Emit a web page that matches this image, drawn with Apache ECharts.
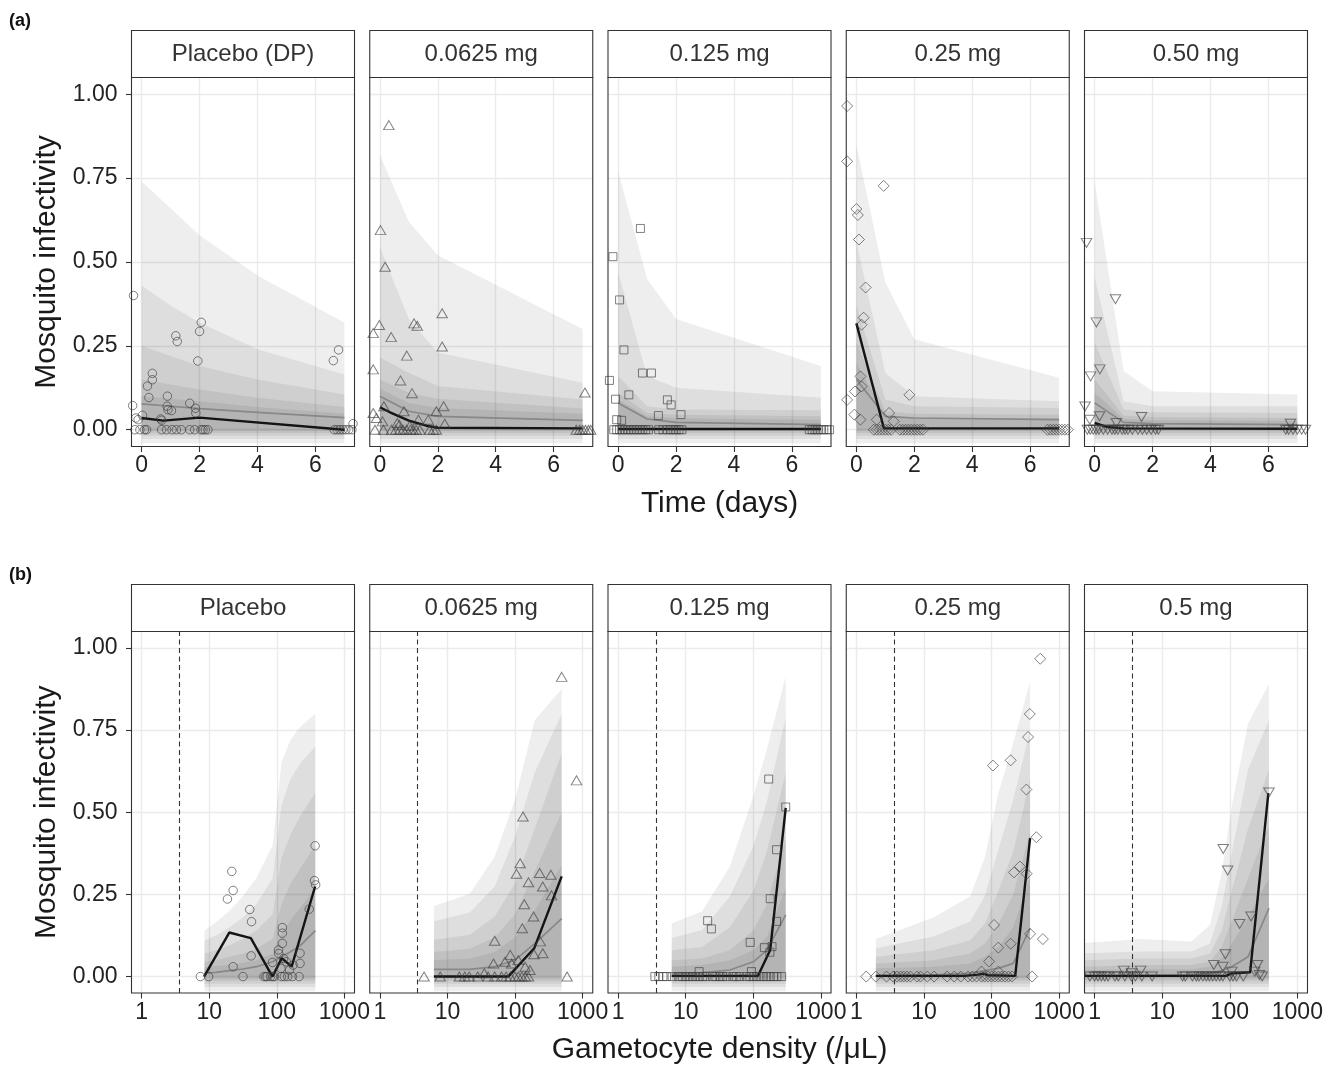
<!DOCTYPE html>
<html><head><meta charset="utf-8">
<script src="https://cdn.jsdelivr.net/npm/echarts@6.0.0/dist/echarts.min.js"></script>
<style>html,body{margin:0;padding:0;background:#fff}#c{width:1337px;height:1067px}</style>
</head><body><div id="c"></div><script>
// ---------- tick labels / categories ----------
const stripA = ['Placebo (DP)', '0.0625 mg', '0.125 mg', '0.25 mg', '0.50 mg'];
const stripB = ['Placebo', '0.0625 mg', '0.125 mg', '0.25 mg', '0.5 mg'];
const timeTicks = [0, 2, 4, 6];
const infTicks = [0, 0.25, 0.5, 0.75, 1];
const densityTicks = [1, 10, 100, 1000];
const detectionLimit = [3.6];
// lower edges of the five prediction bands (outer -> inner)
const bandBottomA = [-0.04, -0.028, -0.018, -0.01, -0.004];
const bandBottomB = [-0.045, -0.032, -0.022, -0.013, -0.006];

// ---------- (a) Placebo (DP) ----------
const a1Time = [0, 1, 2, 4, 7];
const a1BandTop = [
  [0.74, 0.66, 0.58, 0.46, 0.32],
  [0.43, 0.37, 0.32, 0.24, 0.165],
  [0.25, 0.22, 0.19, 0.15, 0.105],
  [0.15, 0.135, 0.12, 0.095, 0.068],
  [0.10, 0.092, 0.085, 0.068, 0.048]];
const a1Median = [0.077, 0.07, 0.063, 0.052, 0.036];
const a1ObsTime = [0, 0.75, 2, 7];
const a1ObsInf = [0.035, 0.027, 0.036, 0.0];
const a1Points = [[-0.28,0.40],[-0.31,0.072],[-0.2,0.035],[-0.12,0.03],[0.03,0.043],[0.2,0.13],[0.25,0.096],[0.37,0.168],[0.37,0.149],[0.66,0.032],[0.69,0.028],[0.89,0.10],[0.88,0.07],[0.91,0.06],[1.03,0.057],[1.18,0.28],[1.23,0.263],[1.66,0.079],[1.86,0.064],[1.87,0.05],[1.94,0.205],[2.0,0.293],[2.06,0.32],[6.62,0.206],[6.8,0.238],[7.3,0.018],
  [-0.23,0],[-0.06,0],[0.1,0],[0.17,0],[0.69,0],[0.86,0],[1.05,0],[1.2,0],[1.37,0],[1.66,0],[1.83,0],[2.05,0],[2.12,0],[2.2,0],[2.29,0],[6.65,0],[6.75,0],[6.85,0],[6.95,0],[7.05,0],[7.15,0],[7.26,0]];

// ---------- (a) 0.0625 mg ----------
const a2Time = [0, 1, 2, 7];
const a2BandTop = [
  [0.82, 0.62, 0.52, 0.30],
  [0.545, 0.33, 0.23, 0.14],
  [0.215, 0.17, 0.13, 0.09],
  [0.15, 0.11, 0.092, 0.063],
  [0.122, 0.08, 0.065, 0.048]];
const a2Median = [0.10, 0.055, 0.04, 0.028];
const a2ObsTime = [0, 0.35, 1, 1.6, 2, 7];
const a2ObsInf = [0.067, 0.052, 0.027, 0.012, 0.006, 0.004];
const a2Points = [[0.31,0.908],[0.02,0.595],[0.18,0.486],[-0.02,0.312],[-0.23,0.288],[1.18,0.317],[1.29,0.31],[0.39,0.276],[2.15,0.347],[2.15,0.248],[0.93,0.221],[-0.23,0.18],[0.71,0.147],[1.11,0.109],[0.14,0.07],[2.2,0.07],[0.83,0.055],[1.95,0.055],[-0.23,0.05],[7.08,0.111],[-0.12,0.035],[0.09,0.025],[0.6,0.02],[0.67,0.015],[1.03,0.012],[1.33,0.03],[1.67,0.03],[2.24,0.018],
  [-0.17,0],[0.12,0],[0.4,0],[0.55,0],[0.69,0],[0.8,0],[0.92,0],[1.05,0],[1.15,0],[1.25,0],[1.38,0],[1.72,0],[1.85,0],[1.95,0],[6.78,0],[6.9,0],[7.0,0],[7.1,0],[7.2,0],[7.28,0]];

// ---------- (a) 0.125 mg ----------
const a3Time = [0, 1, 2, 7];
const a3BandTop = [
  [0.77, 0.45, 0.33, 0.19],
  [0.47, 0.16, 0.125, 0.095],
  [0.16, 0.07, 0.06, 0.058],
  [0.11, 0.05, 0.045, 0.04],
  [0.09, 0.04, 0.034, 0.03]];
const a3Median = [0.08, 0.032, 0.022, 0.015];
const a3ObsTime = [0, 7];
const a3ObsInf = [0.002, 0.002];
const a3Points = [[0.77,0.6],[-0.18,0.516],[0.05,0.387],[0.2,0.238],[0.84,0.169],[1.15,0.169],[-0.3,0.147],[-0.09,0.091],[0.37,0.104],[1.7,0.089],[1.83,0.074],[1.39,0.042],[2.17,0.045],[-0.05,0.03],[0.12,0.028],
  [-0.15,0],[-0.05,0],[0.05,0],[0.15,0],[0.25,0],[0.35,0],[0.45,0],[0.55,0],[0.65,0],[0.75,0],[0.85,0],[0.95,0],[1.05,0],[1.4,0],[1.55,0],[1.7,0],[1.8,0],[1.9,0],[2.0,0],[2.1,0],[2.2,0],[6.6,0],[6.7,0],[6.8,0],[6.9,0],[7.0,0],[7.1,0],[7.2,0],[7.3,0]];

// ---------- (a) 0.25 mg ----------
const a4Time = [0, 1, 2, 7];
const a4BandTop = [
  [0.85, 0.44, 0.27, 0.155],
  [0.56, 0.17, 0.10, 0.085],
  [0.37, 0.09, 0.07, 0.065],
  [0.26, 0.055, 0.048, 0.045],
  [0.20, 0.042, 0.036, 0.034]];
const a4Median = [0.15, 0.04, 0.035, 0.03];
const a4ObsTime = [0, 0.95, 7];
const a4ObsInf = [0.317, 0.004, 0.004];
const a4Points = [[-0.32,0.965],[-0.32,0.8],[0.94,0.727],[0.0,0.658],[0.05,0.64],[0.09,0.567],[0.32,0.424],[0.25,0.334],[0.18,0.313],[0.14,0.159],[0.18,0.129],[-0.05,0.114],[-0.32,0.089],[1.83,0.104],[1.13,0.05],[-0.07,0.045],[0.14,0.03],[1.29,0.025],[0.7,0.03],
  [0.6,0],[0.7,0],[0.8,0],[0.9,0],[1.0,0],[1.1,0],[1.2,0],[1.5,0],[1.6,0],[1.7,0],[1.8,0],[1.9,0],[2.0,0],[2.1,0],[2.2,0],[2.3,0],[6.6,0],[6.7,0],[6.8,0],[6.9,0],[7.0,0],[7.1,0],[7.2,0],[7.3,0]];

// ---------- (a) 0.50 mg ----------
const a5Time = [0, 1, 2, 7];
const a5BandTop = [
  [0.74, 0.175, 0.115, 0.105],
  [0.455, 0.085, 0.07, 0.07],
  [0.26, 0.06, 0.052, 0.05],
  [0.15, 0.042, 0.038, 0.035],
  [0.11, 0.032, 0.028, 0.026]];
const a5Median = [0.08, 0.022, 0.018, 0.015];
const a5ObsTime = [0, 0.45, 1, 7];
const a5ObsInf = [0.02, 0.008, 0.004, 0.003];
const a5Points = [[-0.28,0.557],[0.72,0.389],[0.06,0.32],[0.18,0.18],[-0.14,0.159],[-0.33,0.069],[1.62,0.038],[0.17,0.04],[-0.17,0.03],[0.75,0.02],[6.76,0.018],
  [-0.25,0],[-0.15,0],[-0.05,0],[0.05,0],[0.15,0],[0.3,0],[0.45,0],[0.6,0],[0.7,0],[0.8,0],[0.95,0],[1.05,0],[1.15,0],[1.3,0],[1.5,0],[1.65,0],[1.8,0],[1.95,0],[2.1,0],[2.2,0],[6.6,0],[6.7,0],[6.85,0],[7.0,0],[7.15,0],[7.28,0]];

// ---------- (b) Placebo ----------
const b1Density = [8.5, 12.6, 20, 31.6, 50, 87, 117, 158, 224, 372];
const b1BandTop = [
  [0.14, 0.165, 0.2, 0.245, 0.30, 0.40, 0.65, 0.72, 0.76, 0.80],
  [0.11, 0.125, 0.15, 0.18, 0.22, 0.30, 0.52, 0.60, 0.65, 0.70],
  [0.07, 0.08, 0.095, 0.115, 0.14, 0.19, 0.36, 0.43, 0.49, 0.56],
  [0.045, 0.05, 0.06, 0.07, 0.085, 0.115, 0.22, 0.28, 0.33, 0.40],
  [0.028, 0.032, 0.036, 0.042, 0.05, 0.07, 0.13, 0.17, 0.21, 0.27]];
const b1Median = [0.01, 0.013, 0.018, 0.023, 0.03, 0.045, 0.06, 0.075, 0.095, 0.14];
const b1ObsDensity = [8.4, 19.8, 41.3, 86.3, 118.6, 166, 369];
const b1ObsInf = [0, 0.134, 0.117, 0.0, 0.056, 0.03, 0.274];
const b1Points = [[7.4,0],[9.8,0],[31.6,0],[64.6,0],[69,0],[72,0],[81,0],[87,0],[92,0],[117,0],[129,0],[145,0],[170,0],[214,0],
  [21.6,0.32],[22.6,0.262],[18.6,0.236],[22.6,0.03],[39.8,0.204],[42.3,0.167],[41.7,0.063],[86.3,0.043],[106,0.081],[107,0.07],[121,0.149],[121,0.132],[121,0.101],[115,0.025],[138,0.045],[155,0.02],[174,0.035],[126,0.055],[221,0.071],[221,0.04],[302,0.205],[369,0.398],[361,0.292],[376,0.279]];

// ---------- (b) 0.0625 mg ----------
const b2Density = [6.3, 21.4, 50, 100, 195, 490];
const b2BandTop = [
  [0.215, 0.252, 0.365, 0.538, 0.78, 0.875],
  [0.168, 0.195, 0.274, 0.426, 0.62, 0.80],
  [0.112, 0.127, 0.183, 0.284, 0.45, 0.68],
  [0.075, 0.085, 0.12, 0.19, 0.32, 0.50],
  [0.05, 0.055, 0.075, 0.12, 0.2, 0.34]];
const b2Median = [0.022, 0.022, 0.03, 0.05, 0.1, 0.176];
const b2ObsDensity = [6.3, 79.4, 192, 490];
const b2ObsInf = [0, 0, 0.086, 0.305];
const b2Points = [[4.5,0],[7.8,0],[15,0],[18,0],[21,0],[28,0],[40,0],[50,0],[63,0],[74,0],[85,0],[100,0],[112,0],[126,0],[141,0],[158,0],[589,0],
  [490,0.912],[813,0.597],[131,0.487],[119,0.345],[105,0.313],[231,0.315],[339,0.31],[158,0.287],[257,0.274],[347,0.247],[137,0.22],[188,0.183],[128,0.147],[50,0.109],[236,0.107],[257,0.071],[191,0.068],[85,0.066],[48,0.04],[71,0.045],[89,0.04],[112,0.05],[141,0.03],[166,0.02],[35,0.01]];

// ---------- (b) 0.125 mg ----------
const b3Density = [6.2, 17.4, 45, 100, 158, 302];
const b3BandTop = [
  [0.162, 0.198, 0.335, 0.548, 0.69, 0.914],
  [0.117, 0.142, 0.244, 0.396, 0.53, 0.79],
  [0.08, 0.09, 0.15, 0.26, 0.38, 0.62],
  [0.05, 0.055, 0.08, 0.14, 0.22, 0.42],
  [0.03, 0.035, 0.05, 0.08, 0.12, 0.27]];
const b3Median = [0.01, 0.012, 0.02, 0.045, 0.08, 0.188];
const b3ObsDensity = [6.2, 117, 178, 302];
const b3ObsInf = [0.002, 0.002, 0.081, 0.513];
const b3Points = [[3.5,0],[4,0],[4.6,0],[5.2,0],[6.3,0],[7.9,0],[8.9,0],[10,0],[11.2,0],[12.6,0],[14.1,0],[15.8,0],[17.8,0],[20,0],[25,0],[28,0],[32,0],[35,0],[40,0],[50,0],[56,0],[63,0],[79,0],[89,0],[100,0],[112,0],[126,0],[141,0],[158,0],[178,0],[200,0],[224,0],[263,0],
  [169,0.601],[302,0.516],[221,0.386],[178,0.237],[221,0.168],[21.1,0.17],[24,0.145],[90,0.104],[146,0.088],[189,0.091],[176,0.074],[15.8,0.015],[94,0.015]];

// ---------- (b) 0.25 mg ----------
const b4Density = [1.94, 13.7, 48, 79, 126, 209, 372];
const b4BandTop = [
  [0.114, 0.18, 0.244, 0.36, 0.558, 0.71, 0.898],
  [0.086, 0.122, 0.167, 0.244, 0.386, 0.538, 0.75],
  [0.06, 0.08, 0.11, 0.16, 0.26, 0.38, 0.6],
  [0.04, 0.05, 0.07, 0.1, 0.16, 0.25, 0.44],
  [0.025, 0.03, 0.04, 0.06, 0.09, 0.15, 0.3]];
const b4Median = [0.002, 0.005, 0.01, 0.018, 0.025, 0.04, 0.147];
const b4ObsDensity = [1.94, 40, 63, 76, 89, 224, 372];
const b4ObsInf = [0.002, 0.002, 0.006, 0.009, 0.004, 0.002, 0.421];
const b4Points = [[1.4,0],[1.94,0],[2.8,0],[3.5,0],[4,0],[4.5,0],[5,0],[5.6,0],[6.3,0],[7.9,0],[8.9,0],[11.2,0],[14.1,0],[22,0],[28,0],[35,0],[45,0],[52,0],[60,0],[71,0],[79,0],[89,0],[100,0],[112,0],[126,0],[141,0],[158,0],[178,0],[200,0],[398,0],
  [525,0.967],[368,0.799],[347,0.729],[192,0.658],[105,0.642],[328,0.569],[461,0.424],[263,0.335],[215,0.317],[331,0.313],[109,0.157],[372,0.13],[575,0.114],[126,0.088],[192,0.1],[92,0.046],[71,0.015],[126,0.015]];

// ---------- (b) 0.5 mg ----------
const b5Density = [0.708, 4.9, 26.9, 50.7, 75.9, 107, 186, 380];
const b5BandTop = [
  [0.102, 0.114, 0.107, 0.157, 0.315, 0.518, 0.77, 0.89],
  [0.071, 0.076, 0.076, 0.10, 0.213, 0.376, 0.63, 0.78],
  [0.05, 0.055, 0.055, 0.07, 0.14, 0.26, 0.45, 0.63],
  [0.03, 0.035, 0.035, 0.045, 0.09, 0.17, 0.3, 0.46],
  [0.02, 0.022, 0.022, 0.03, 0.055, 0.1, 0.18, 0.3]];
const b5Median = [0.002, 0.003, 0.005, 0.01, 0.018, 0.03, 0.06, 0.208];
const b5ObsDensity = [0.708, 89, 107, 200, 372];
const b5ObsInf = [0.002, 0.002, 0.01, 0.013, 0.558];
const b5Points = [[0.85,0],[1,0],[1.12,0],[1.26,0],[1.41,0],[1.58,0],[2,0],[2.24,0],[2.8,0],[3.5,0],[4,0],[5,0],[7.1,0],[20,0],[22,0],[28,0],[32,0],[35,0],[40,0],[45,0],[50,0],[56,0],[63,0],[71,0],[79,0],[100,0],[112,0],[126,0],[158,0],[302,0],
  [2.7,0.018],[4.8,0.018],[3.5,0.01],[80,0.388],[93,0.323],[380,0.56],[206,0.183],[140,0.16],[86,0.068],[58,0.035],[79,0.03],[257,0.035],[234,0.015],[107,0.015],[275,0.005]];

// ---------- layout / styles ----------
const FONT = 'Liberation Sans, Arial, Helvetica, sans-serif';
const L0 = 131.5, STEP = 238.25, W = 223;
const ROWS = [{top: 77.5, h: 369, stripTop: 30.5, tag: '(a)', tagY: 21.5},
              {top: 631.5, h: 361.5, stripTop: 584.5, tag: '(b)', tagY: 575}];
const BAND_FILL = 'rgba(0,0,0,0.068)';
const SYMBOLS = [
  {symbol: 'circle', size: 8.5, rot: 0},
  {symbol: 'triangle', size: [10.5, 9], rot: 0},
  {symbol: 'rect', size: 8, rot: 0},
  {symbol: 'diamond', size: [11, 11], rot: 0},
  {symbol: 'triangle', size: [10.5, 9], rot: 180}];

const facets = [
  {row:0, col:0, strip:stripA[0], xs:a1Time, tops:a1BandTop, med:a1Median, ox:a1ObsTime, oy:a1ObsInf, pts:a1Points},
  {row:0, col:1, strip:stripA[1], xs:a2Time, tops:a2BandTop, med:a2Median, ox:a2ObsTime, oy:a2ObsInf, pts:a2Points},
  {row:0, col:2, strip:stripA[2], xs:a3Time, tops:a3BandTop, med:a3Median, ox:a3ObsTime, oy:a3ObsInf, pts:a3Points},
  {row:0, col:3, strip:stripA[3], xs:a4Time, tops:a4BandTop, med:a4Median, ox:a4ObsTime, oy:a4ObsInf, pts:a4Points},
  {row:0, col:4, strip:stripA[4], xs:a5Time, tops:a5BandTop, med:a5Median, ox:a5ObsTime, oy:a5ObsInf, pts:a5Points},
  {row:1, col:0, strip:stripB[0], xs:b1Density, tops:b1BandTop, med:b1Median, ox:b1ObsDensity, oy:b1ObsInf, pts:b1Points, log:true},
  {row:1, col:1, strip:stripB[1], xs:b2Density, tops:b2BandTop, med:b2Median, ox:b2ObsDensity, oy:b2ObsInf, pts:b2Points, log:true},
  {row:1, col:2, strip:stripB[2], xs:b3Density, tops:b3BandTop, med:b3Median, ox:b3ObsDensity, oy:b3ObsInf, pts:b3Points, log:true},
  {row:1, col:3, strip:stripB[3], xs:b4Density, tops:b4BandTop, med:b4Median, ox:b4ObsDensity, oy:b4ObsInf, pts:b4Points, log:true},
  {row:1, col:4, strip:stripB[4], xs:b5Density, tops:b5BandTop, med:b5Median, ox:b5ObsDensity, oy:b5ObsInf, pts:b5Points, log:true}];

const grid = [], xAxis = [], yAxis = [], series = [], graphic = [];
const gridLine = {show: true, lineStyle: {color: '#EBEBEB', width: 1.4}};
const tickStyle = {color: '#333', width: 1.1};
const labelStyle = {fontSize: 23, color: '#222', fontFamily: FONT};

facets.forEach((f, i) => {
  const R = ROWS[f.row];
  const left = L0 + f.col * STEP;
  grid.push({left: left, top: R.top, width: W, height: R.h});
  const tx = f.log ? (v => Math.log10(v)) : (v => v);
  const xt = f.log ? densityTicks.map(v => Math.log10(v)) : timeTicks;
  xAxis.push({
    gridIndex: i, type: 'value', min: f.log ? -0.15 : -0.35, max: f.log ? 3.15 : 7.35,
    axisLine: {show: false, onZero: false},
    axisTick: {show: true, length: 5.5, lineStyle: tickStyle, customValues: xt},
    axisLabel: Object.assign({customValues: xt, margin: 8,
      formatter: f.log ? (v => String(Math.round(Math.pow(10, v)))) : (v => String(v))}, labelStyle),
    splitLine: gridLine,
    name: f.col === 2 ? (f.log ? 'Gametocyte density (/\u03BCL)' : 'Time (days)') : '',
    nameLocation: 'middle', nameGap: 42,
    nameTextStyle: {fontSize: 30, color: '#1a1a1a', fontFamily: FONT}
  });
  yAxis.push({
    gridIndex: i, type: 'value', min: -0.05, max: 1.05,
    axisLine: {show: false, onZero: false},
    axisTick: {show: f.col === 0, length: 5.5, lineStyle: tickStyle, customValues: infTicks},
    axisLabel: Object.assign({show: f.col === 0, customValues: infTicks, margin: 14,
      formatter: v => v.toFixed(2)}, labelStyle),
    splitLine: gridLine,
    name: f.col === 0 ? 'Mosquito infectivity' : '',
    nameLocation: 'middle', nameGap: 70,
    nameTextStyle: {fontSize: 30, color: '#1a1a1a', fontFamily: FONT}
  });
  const xs = f.xs.map(tx);
  const bottoms = f.log ? bandBottomB : bandBottomA;
  f.tops.forEach((top, k) => {
    const bot = bottoms[k];
    series.push({
      type: 'custom', xAxisIndex: i, yAxisIndex: i, silent: true, clip: true, z: 1,
      data: [[xs[0], top[0]]],
      renderItem: (params, api) => {
        const p = [];
        for (let j = 0; j < xs.length; j++) p.push(api.coord([xs[j], top[j]]));
        for (let j = xs.length - 1; j >= 0; j--) p.push(api.coord([xs[j], bot]));
        return {type: 'polygon', shape: {points: p}, style: {fill: BAND_FILL}};
      }
    });
  });
  series.push({
    type: 'line', xAxisIndex: i, yAxisIndex: i, silent: true, z: 3, symbol: 'none',
    data: xs.map((x, j) => [x, f.med[j]]),
    lineStyle: {color: '#888', width: 1.7}
  });
  const obs = {
    type: 'line', xAxisIndex: i, yAxisIndex: i, silent: true, z: 4, symbol: 'none',
    data: f.ox.map((x, j) => [tx(x), f.oy[j]]),
    lineStyle: {color: '#141414', width: 2.4}
  };
  if (f.log) {
    obs.markLine = {silent: true, symbol: 'none', label: {show: false},
      lineStyle: {color: '#333', type: [5, 3.5], width: 1.1},
      data: [{xAxis: Math.log10(detectionLimit[0])}]};
  }
  series.push(obs);
  const S = SYMBOLS[f.col];
  series.push({
    type: 'scatter', xAxisIndex: i, yAxisIndex: i, silent: true, z: 5,
    symbol: S.symbol, symbolSize: S.size, symbolRotate: S.rot,
    data: f.pts.map(p => [tx(p[0]), p[1]]),
    itemStyle: {color: 'rgba(0,0,0,0)', borderColor: 'rgba(60,60,60,0.8)', borderWidth: 1}
  });
  // strip + border
  graphic.push({type: 'rect', z: 100, shape: {x: left, y: R.stripTop, width: W, height: R.top - R.stripTop},
    style: {fill: '#fff', stroke: '#333', lineWidth: 1.1}});
  graphic.push({type: 'text', z: 101, style: {text: f.strip, x: left + W / 2, y: (R.stripTop + R.top) / 2,
    align: 'center', verticalAlign: 'middle', fontSize: 24, fill: '#333', fontFamily: FONT}});
  graphic.push({type: 'rect', z: 100, shape: {x: left, y: R.top, width: W, height: R.h},
    style: {fill: 'none', stroke: '#333', lineWidth: 1.1}});
});
ROWS.forEach(R => {
  graphic.push({type: 'text', z: 101, style: {text: R.tag, x: 9, y: R.tagY, align: 'left', verticalAlign: 'middle',
    fontSize: 18, fontWeight: 'bold', fill: '#111', fontFamily: FONT}});
});

const chart = echarts.init(document.getElementById('c'), null, {renderer: 'canvas', width: 1337, height: 1067});
chart.setOption({animation: false, backgroundColor: '#fff', grid, xAxis, yAxis, series, graphic});
</script></body></html>
